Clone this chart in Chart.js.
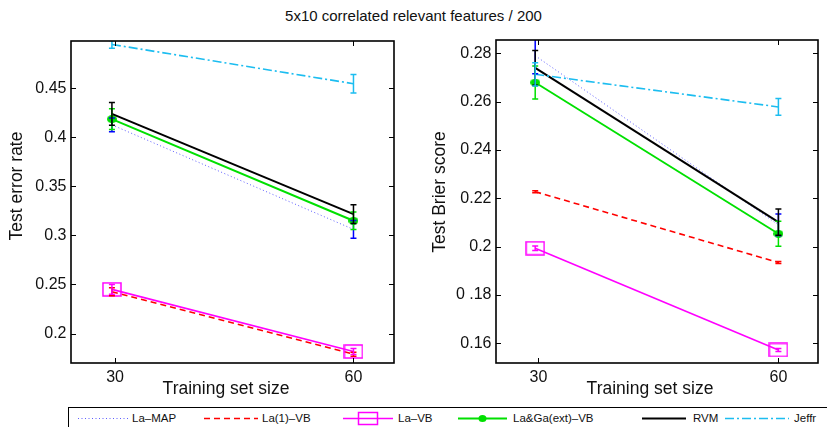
<!DOCTYPE html>
<html>
<head>
<meta charset="utf-8">
<script src="https://cdn.jsdelivr.net/npm/chart.js@4.4.1/dist/chart.umd.min.js"></script>
<style>
  body { margin: 0; background: #fff; width: 827px; height: 427px; overflow: hidden; position: relative;
         font-family: "Liberation Sans", Arial, sans-serif; color: #111; }
  #title { position: absolute; left: 0; top: 7px; width: 827px; text-align: center; font-size: 15px; line-height: 18px; }
  #errChart { position: absolute; left: 0; top: 0; }
  #brierChart { position: absolute; left: 410px; top: 0; }
  #legend { position: absolute; left: 68px; top: 407px; width: 800px; height: 40px;
            border: 1.5px solid #000; box-sizing: border-box; }
  .item { position: absolute; top: 2px; height: 16px; }
  .item svg { position: absolute; top: 0; left: 0; }
  .item span { position: absolute; top: 0; font-size: 11.5px; line-height: 16px; white-space: nowrap; }
</style>
</head>
<body>
<div id="title">5x10 correlated relevant features / 200</div>
<canvas id="errChart" width="410" height="400"></canvas>
<canvas id="brierChart" width="417" height="400"></canvas>
<div id="legend"></div>
<script>
// training set sizes (the 30-point sits a hair left of its tick)
const sizes = [29.6, 60];
const sizeTicks = [30, 60];
const sizeLabels = ['30', '60'];

const methods = ['La–MAP', 'La(1)–VB', 'La–VB', 'La&Ga(ext)–VB', 'RVM', 'Jeffr'];

// test error rate, mean and half error-bar per method
const errMean = [
  [0.4126, 0.3061],
  [0.2426, 0.1790],
  [0.2450, 0.1817],
  [0.4184, 0.3149],
  [0.4238, 0.3217],
  [0.4945, 0.4545]
];
const errSpread = [
  [0.0070, 0.0090],
  [0.0040, 0.0020],
  [0.0050, 0.0030],
  [0.0105, 0.0090],
  [0.0115, 0.0095],
  [0.0040, 0.0095]
];
const errTicks = [0.2, 0.25, 0.3, 0.35, 0.4, 0.45];
const errTickLabels = ['0.2', '0.25', '0.3', '0.35', '0.4', '0.45'];

// test Brier score
const brierMean = [
  [0.2790, 0.2090],
  [0.2227, 0.1934],
  [0.1993, 0.1572],
  [0.2679, 0.2053],
  [0.2740, 0.2101],
  [0.2713, 0.2578]
];
const brierSpread = [
  [0.0075, 0.0045],
  [0.0004, 0.0004],
  [0.0009, 0.0006],
  [0.0068, 0.0052],
  [0.0072, 0.0054],
  [0.0048, 0.0035]
];
const brierTicks = [0.16, 0.18, 0.2, 0.22, 0.24, 0.26, 0.28];
const brierTickLabels = ['0.16', '0 .18', '0.2', '0.22', '0.24', '0.26', '0.28'];

const FONT = '"Liberation Sans", Arial, sans-serif';

// open box marker and filled dot, drawn as images
function boxMarker(w, h, color) {
  const c = document.createElement('canvas');
  c.width = w + 2; c.height = h + 2;
  const g = c.getContext('2d');
  g.strokeStyle = color; g.lineWidth = 1.5;
  g.strokeRect(1, 1, w, h);
  return c;
}
function dotMarker(w, h, color) {
  const c = document.createElement('canvas');
  c.width = w; c.height = h;
  const g = c.getContext('2d');
  g.fillStyle = color;
  g.beginPath(); g.ellipse(w / 2, h / 2, w / 2, h / 2, 0, 0, Math.PI * 2); g.fill();
  return c;
}

const styles = [
  { line: 'rgba(40,40,255,0.75)', bar: '#0000ff', width: 1, dash: [1, 2.5], marker: false },
  { line: '#ff0000', bar: '#ff0000', width: 1.6, dash: [6, 4], marker: false },
  { line: '#ff00ff', bar: '#ff00ff', width: 1.6, dash: [], marker: boxMarker(18, 13, '#ff00ff') },
  { line: '#00e000', bar: '#00e000', width: 1.9, dash: [], marker: dotMarker(10, 8, '#00e000') },
  { line: '#000000', bar: '#000000', width: 2, dash: [], marker: false },
  { line: '#1cbdf0', bar: '#1cbdf0', width: 1.6, dash: [9, 3, 2, 3], marker: false }
];

function buildDatasets(means, spreads) {
  return methods.map((name, i) => ({
    label: name,
    data: sizes.map((s, j) => ({ x: s, y: means[i][j] })),
    spread: spreads[i],
    borderColor: styles[i].line,
    barColor: styles[i].bar,
    borderWidth: styles[i].width,
    borderDash: styles[i].dash,
    pointStyle: styles[i].marker,
    pointRadius: styles[i].marker ? 6 : 0,
    fill: false,
    tension: 0,
    order: methods.length - i
  }));
}

// vertical error bars with small caps, clipped to the axes
const errorBars = {
  id: 'errorBars',
  afterDatasetsDraw(chart) {
    const { ctx, chartArea: a, scales: { x, y } } = chart;
    ctx.save();
    ctx.beginPath(); ctx.rect(a.left, a.top, a.right - a.left, a.bottom - a.top); ctx.clip();
    chart.data.datasets.forEach(ds => {
      ctx.strokeStyle = ds.barColor;
      ctx.lineWidth = 1.5;
      ds.data.forEach((p, j) => {
        const px = x.getPixelForValue(p.x);
        const top = y.getPixelForValue(p.y + ds.spread[j]);
        const bot = y.getPixelForValue(p.y - ds.spread[j]);
        ctx.beginPath();
        ctx.moveTo(px, top); ctx.lineTo(px, bot);
        ctx.moveTo(px - 3, top); ctx.lineTo(px + 3, top);
        ctx.moveTo(px - 3, bot); ctx.lineTo(px + 3, bot);
        ctx.stroke();
      });
    });
    ctx.restore();
  }
};

// boxed axes with inward ticks on every side, plus both axis labels
const frame = {
  id: 'frame',
  afterDraw(chart, args, opts) {
    const { ctx, chartArea: a, scales: { x, y } } = chart;
    ctx.save();
    ctx.strokeStyle = '#000';
    ctx.lineWidth = 1;
    ctx.beginPath();
    y.ticks.forEach(t => {
      const py = Math.round(y.getPixelForValue(t.value)) + 0.5;
      ctx.moveTo(a.left, py); ctx.lineTo(a.left + 5, py);
      ctx.moveTo(a.right, py); ctx.lineTo(a.right - 5, py);
    });
    x.ticks.forEach(t => {
      const px = Math.round(x.getPixelForValue(t.value)) + 0.5;
      ctx.moveTo(px, a.bottom); ctx.lineTo(px, a.bottom - 5);
      ctx.moveTo(px, a.top); ctx.lineTo(px, a.top + 5);
    });
    ctx.stroke();
    ctx.lineWidth = 1.6;
    ctx.strokeRect(a.left, a.top, a.right - a.left, a.bottom - a.top);

    ctx.fillStyle = '#111';
    ctx.font = '17.5px ' + FONT;
    ctx.textAlign = 'center';
    ctx.textBaseline = 'middle';
    ctx.fillText(opts.xLabel, opts.xLabelX, opts.xLabelY);
    ctx.translate(opts.yLabelX, opts.yLabelY);
    ctx.rotate(-Math.PI / 2);
    ctx.fillText(opts.yLabel, 0, 0);
    ctx.restore();
  }
};

function makeChart(id, means, spreads, yMin, yMax, yTicks, yLabels, xMin, xMax, yWidth, pad, labels) {
  return new Chart(document.getElementById(id), {
    type: 'line',
    data: { datasets: buildDatasets(means, spreads) },
    plugins: [errorBars, frame],
    options: {
      responsive: false,
      animation: false,
      devicePixelRatio: 1,
      layout: { padding: pad },
      plugins: {
        legend: { display: false },
        tooltip: { enabled: false },
        frame: labels
      },
      scales: {
        x: {
          type: 'linear', min: xMin, max: xMax,
          grid: { display: false, drawTicks: false },
          border: { display: false },
          afterBuildTicks: s => { s.ticks = sizeTicks.map(v => ({ value: v })); },
          afterFit: s => { s.height = 37; },
          ticks: {
            padding: 5, color: '#111', maxRotation: 0,
            font: { family: FONT, size: 16 },
            callback: (v, i) => sizeLabels[i]
          }
        },
        y: {
          min: yMin, max: yMax,
          grid: { display: false, drawTicks: false },
          border: { display: false },
          afterBuildTicks: s => { s.ticks = yTicks.map(v => ({ value: v })); },
          afterFit: s => { s.width = yWidth; },
          ticks: {
            padding: 4.5, color: '#111',
            font: { family: FONT, size: 16 },
            callback: (v, i) => yLabels[i]
          }
        }
      }
    }
  });
}

makeChart('errChart', errMean, errSpread, 0.170, 0.498, errTicks, errTickLabels,
  24.45, 65.1, 71, { top: 41, right: 16, left: 0, bottom: 0 },
  { yLabel: 'Test error rate', yLabelX: 17, yLabelY: 186,
    xLabel: 'Training set size', xLabelX: 226, xLabelY: 389 });

makeChart('brierChart', brierMean, brierSpread, 0.1518, 0.2855, brierTicks, brierTickLabels,
  24.7, 64.95, 86, { top: 40, right: 9, left: 0, bottom: 0 },
  { yLabel: 'Test Brier score', yLabelX: 30, yLabelY: 192,
    xLabel: 'Training set size', xLabelX: 240, xLabelY: 389 });

// legend row along the bottom edge
const legendPos = [
  { line: [9, 59], text: 63 },
  { line: [135, 189], text: 193 },
  { line: [274, 324], text: 329 },
  { line: [389, 438], text: 444 },
  { line: [573, 617], text: 624 },
  { line: [656, 720], text: 725 }
];
const legend = document.getElementById('legend');
methods.forEach((name, i) => {
  const st = styles[i], p = legendPos[i];
  const item = document.createElement('div');
  item.className = 'item';
  item.style.left = '0px';
  const w = p.line[1] - p.line[0];
  let svg = '<svg width="' + (p.line[1] + 2) + '" height="16">' +
    '<line x1="' + p.line[0] + '" y1="8.5" x2="' + p.line[1] + '" y2="8.5" stroke="' + st.line +
    '" stroke-width="' + st.width + '" stroke-dasharray="' + (st.dash.length ? st.dash.join(' ') : 'none') + '"/>';
  const cx = p.line[0] + w / 2;
  if (i === 2) svg += '<rect x="' + (cx - 9.5) + '" y="2.5" width="19" height="12" fill="none" stroke="' + st.line + '" stroke-width="1.5"/>';
  if (i === 3) svg += '<ellipse cx="' + cx + '" cy="8.5" rx="4" ry="3.5" fill="' + st.line + '"/>';
  svg += '</svg>';
  item.innerHTML = svg + '<span style="left:' + p.text + 'px">' + name.replace('&', '&amp;') + '</span>';
  legend.appendChild(item);
});
</script>
</body>
</html>
